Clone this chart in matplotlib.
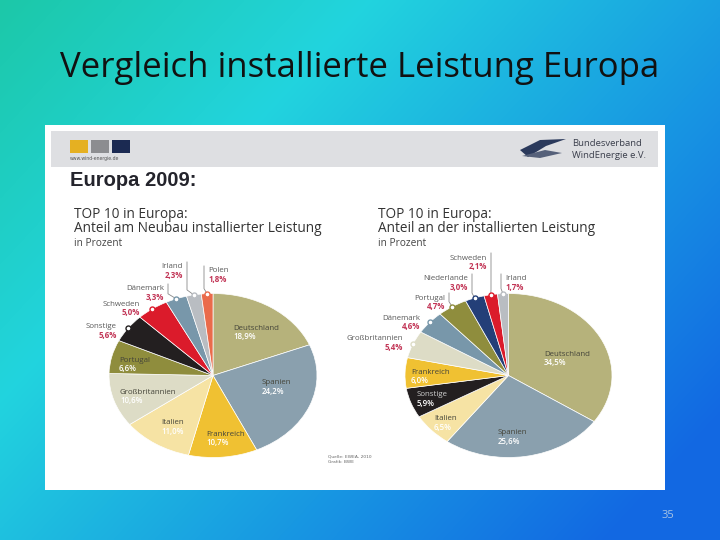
#!/usr/bin/env python3
import numpy as np
import matplotlib
matplotlib.use("Agg")
import matplotlib.pyplot as plt
from matplotlib.patches import Rectangle, Polygon

# --- data -------------------------------------------------------------
neubau_labels = ["Deutschland", "Spanien", "Frankreich", "Italien", "Großbritannien",
                 "Portugal", "Sonstige", "Schweden", "Dänemark", "Irland", "Polen"]
neubau_values = [18.9, 24.2, 10.7, 11.0, 10.6, 6.6, 5.6, 5.0, 3.3, 2.3, 1.8]

bestand_labels = ["Deutschland", "Spanien", "Italien", "Sonstige", "Frankreich",
                  "Großbritannien", "Dänemark", "Portugal", "Niederlande", "Schweden", "Irland"]
bestand_values = [34.5, 25.6, 6.5, 5.9, 6.0, 5.4, 4.6, 4.7, 3.0, 2.1, 1.7]

# --- style ------------------------------------------------------------
COLORS = {
    "Deutschland": "#b6b27b",
    "Spanien": "#8aa0ae",
    "Frankreich": "#f0c132",
    "Italien": "#f6e3a4",
    "Großbritannien": "#dddcc6",
    "Portugal": "#8f8d3d",
    "Sonstige": "#231f20",
    "Schweden": "#db1b2b",
    "Dänemark": "#7897aa",
    "Irland": "#b9bdc2",
    "Polen": "#ea6b4b",
    "Niederlande": "#243f78",
}
RED = "#c23556"
GRAY = "#5a5a5a"
FONT = "Open Sans"
LBL = 5.7

W, H = 720, 540

# inside labels: left edge x, name y (pixels, y downwards)
left_inside = {"Deutschland": (233, 328), "Spanien": (262, 383), "Frankreich": (206, 434),
               "Italien": (161, 423), "Großbritannien": (120, 392), "Portugal": (119, 360)}
right_inside = {"Deutschland": (544, 354), "Spanien": (498, 433), "Italien": (434, 419),
                "Sonstige": (417, 395), "Frankreich": (411, 372)}
# outside labels: anchor x, name y, alignment, draw leader line
left_outside = {"Sonstige": (117, 327, "right", False), "Schweden": (140, 304, "right", False),
                "Dänemark": (164, 289, "right", True), "Irland": (183, 267, "right", True),
                "Polen": (208, 271, "left", True)}
right_outside = {"Großbritannien": (403, 339, "right", False), "Dänemark": (420, 318, "right", False),
                 "Portugal": (445, 298, "right", True), "Niederlande": (468, 279, "right", True),
                 "Schweden": (487, 258, "right", True), "Irland": (505, 279, "left", True)}


def fmt(v):
    return f"{v:.1f}%".replace(".", ",")


fig = plt.figure(figsize=(7.2, 5.4), dpi=100)

# background gradient
bg = fig.add_axes([0, 0, 1, 1], zorder=0)
xx, yy = np.meshgrid(np.linspace(0, 1, 360), np.linspace(0, 1, 270))
t = np.clip(0.65 * xx + 0.45 * yy, 0, 1)
stops_t = [0.0, 0.33, 0.7, 1.0]
stops_c = np.array([[28, 200, 168], [34, 212, 222], [24, 152, 226], [18, 104, 226]]) / 255
img = np.dstack([np.interp(t, stops_t, stops_c[:, k]) for k in range(3)])
bg.imshow(img, extent=[0, W, H, 0], aspect="auto", interpolation="bilinear")
bg.set_xlim(0, W)
bg.set_ylim(H, 0)
bg.axis("off")

bg.text(360, 68, "Vergleich installierte Leistung Europa", ha="center", va="center",
        fontsize=25, family=FONT, color="#111111")
bg.text(668, 515, "35", ha="center", va="center", fontsize=8, color="#a8c4e4", family=FONT)

# white picture panel + header band
bg.add_patch(Rectangle((45, 125), 620, 365, facecolor="white", edgecolor="none"))
bg.add_patch(Rectangle((51, 131), 607, 36, facecolor="#dedfe2", edgecolor="none"))
for x0, c in [(70, "#e5b022"), (91, "#8c8d90"), (112, "#1b2a52")]:
    bg.add_patch(Rectangle((x0, 140), 18, 13, facecolor=c, edgecolor="none"))
bg.text(70, 158.5, "www.wind-energie.de", fontsize=3.3, color="#555555", va="center")
bg.add_patch(Polygon([(520, 150), (540, 140), (566, 139), (546, 146), (528, 157)],
                     facecolor="#2b3a5c", edgecolor="none"))
bg.add_patch(Polygon([(522, 156), (545, 150), (562, 153), (540, 158)],
                     facecolor="#56617a", edgecolor="none"))
bg.text(572, 144, "Bundesverband", fontsize=6.8, color="#3b3f4c", va="center", family=FONT)
bg.text(572, 156, "WindEnergie e.V.", fontsize=6.8, color="#3b3f4c", va="center", family=FONT)
bg.text(70, 181, "Europa 2009:", fontsize=14.5, weight="bold", color="#24242c",
        va="center", family="Liberation Sans")

for x0, line2 in [(74, "Anteil am Neubau installierter Leistung"),
                  (378, "Anteil an der installierten Leistung")]:
    bg.text(x0, 214, "TOP 10 in Europa:", fontsize=9.8, color="#333333", va="center", family=FONT)
    bg.text(x0, 229, line2, fontsize=9.8, color="#333333", va="center", family=FONT)
    bg.text(x0, 243, "in Prozent", fontsize=7.3, color="#444444", va="center", family=FONT)

bg.text(328, 456, "Quelle: EWEA, 2010", fontsize=3.2, color="#666666", va="center")
bg.text(328, 462, "Grafik: BWE", fontsize=3.2, color="#666666", va="center")

# foreground overlay for labels and markers
fg = fig.add_axes([0, 0, 1, 1], zorder=3)
fg.set_xlim(0, W)
fg.set_ylim(H, 0)
fg.axis("off")
fg.patch.set_alpha(0)


def draw_pie(labels, values, cx, cy, rx, ry, inside, outside):
    ax = fig.add_axes([(cx - rx) / W, 1 - (cy + ry) / H, 2 * rx / W, 2 * ry / H], zorder=2)
    ax.pie(values, colors=[COLORS[n] for n in labels], startangle=90, counterclock=False,
           radius=1, wedgeprops=dict(edgecolor="white", linewidth=0.5))
    ax.set_aspect("auto")
    ax.set_xlim(-1, 1)
    ax.set_ylim(-1, 1)

    total = sum(values)
    cum = np.cumsum([0] + list(values))
    for i, (name, val) in enumerate(zip(labels, values)):
        if name in inside:
            x, y = inside[name]
            ncol = "#cfcfcf" if name == "Sonstige" else "#45453a"
            fg.text(x, y, name, fontsize=LBL, color=ncol, va="center", ha="left", family=FONT)
            fg.text(x, y + 8.5, fmt(val), fontsize=LBL, color="white", va="center", ha="left",
                    family=FONT, weight="semibold")
        elif name in outside:
            mid = np.deg2rad(90 - (cum[i] + val / 2) / total * 360)
            mx, my = cx + rx * np.cos(mid), cy - ry * np.sin(mid)
            x, y, ha, line = outside[name]
            if line:
                lx = x + (4 if ha == "right" else -4)
                fg.plot([lx, lx, mx], [y - 5, my - 5, my], color="#8a8a8a", lw=0.6)
            fg.plot(mx, my, "o", ms=3.6, mfc="white", mec=COLORS[name], mew=1.0)
            fg.text(x, y, name, fontsize=LBL, color=GRAY, va="center", ha=ha, family=FONT)
            fg.text(x, y + 8.5, fmt(val), fontsize=LBL, color=RED, va="center", ha=ha,
                    family=FONT, weight="bold")


draw_pie(neubau_labels, neubau_values, 213, 375.5, 104, 82, left_inside, left_outside)
draw_pie(bestand_labels, bestand_values, 508.5, 375.5, 103.5, 82, right_inside, right_outside)

fig.savefig("out.png", dpi=100)
